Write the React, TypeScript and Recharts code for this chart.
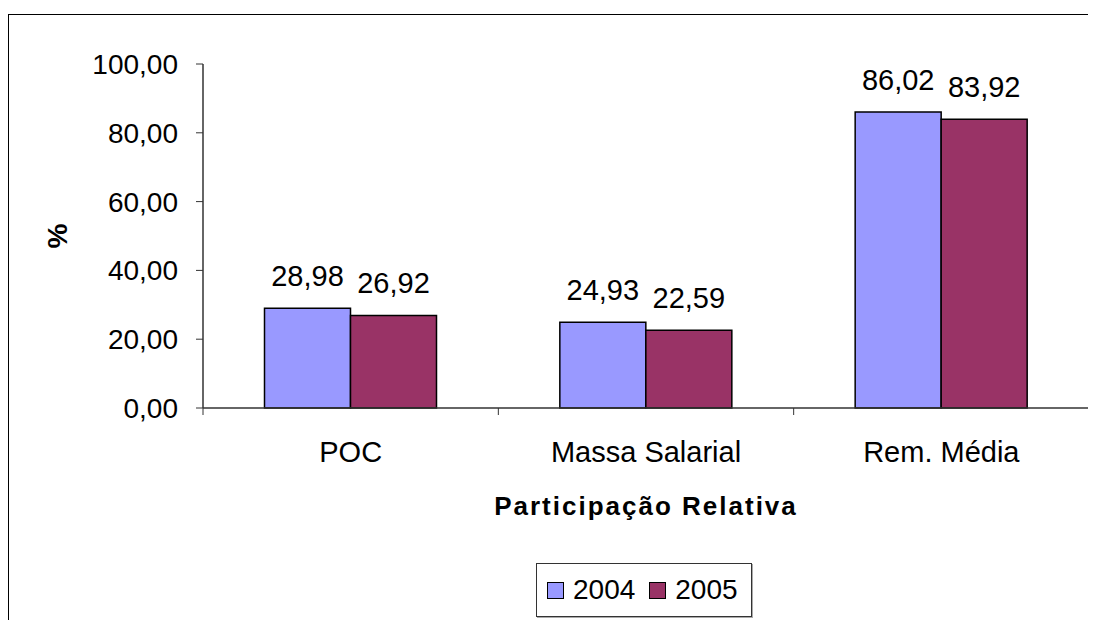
import React from 'react';
import { BarChart, Bar, XAxis, YAxis, LabelList, Legend, Label } from 'recharts';

const categories = ['POC', 'Massa Salarial', 'Rem. Média'];
const values2004 = [28.98, 24.93, 86.02];
const values2005 = [26.92, 22.59, 83.92];
const yTicks = [0, 20, 40, 60, 80, 100];
const seriesNames = ['2004', '2005'];
const seriesColors = ['#9999FF', '#993366'];

const data = categories.map((c, i) => ({ name: c, v2004: values2004[i], v2005: values2005[i] }));

const FONT = '"Liberation Sans", Arial, Helvetica, sans-serif';
const fmt = (v: any) => Number(v).toFixed(2).replace('.', ',');

const X_TICK_SIZE = 7;
const X_TICK_MARGIN = 26;

const CategoryTick = (props: any) => {
  const { x, y, payload, index, visibleTicksCount } = props;
  const half = payload && payload.offset ? payload.offset : 0;
  const axisY = y - X_TICK_SIZE - X_TICK_MARGIN;
  const last = index === (visibleTicksCount ?? categories.length) - 1;
  return (
    <g>
      <line x1={x - half} x2={x - half} y1={axisY} y2={axisY + X_TICK_SIZE} stroke="#333" strokeWidth={1} />
      {last && <line x1={x + half} x2={x + half} y1={axisY} y2={axisY + X_TICK_SIZE} stroke="#333" strokeWidth={1} />}
      <text x={x} y={y} dy="0.71em" textAnchor="middle" fontSize={29} fontFamily={FONT} fill="#000">
        {payload.value}
      </text>
    </g>
  );
};

const LegendContent = () => (
  <div
    style={{
      boxSizing: 'border-box',
      width: 216,
      height: 54,
      border: '1px solid #333',
      boxShadow: '1px 1px 0 #aaa',
      background: '#fff',
      display: 'flex',
      alignItems: 'center',
      paddingLeft: 10,
      fontFamily: FONT,
      fontSize: 28,
      color: '#000',
    }}
  >
    {seriesNames.map((n, i) => (
      <div key={n} style={{ display: 'flex', alignItems: 'center', marginRight: i === 0 ? 14 : 0 }}>
        <div
          style={{
            boxSizing: 'border-box',
            width: 17,
            height: 17,
            border: '1.5px solid #000',
            background: seriesColors[i],
            marginRight: 9,
          }}
        />
        <span style={{ lineHeight: '28px' }}>{n}</span>
      </div>
    ))}
  </div>
);

export default function App() {
  return (
    <div style={{ paddingTop: 6 }}>
      <div
        style={{
          width: 1087,
          height: 605,
          borderTop: '1px solid #000',
          borderLeft: '1px solid #000',
          background: '#fff',
        }}
      >
        <BarChart
          width={1087}
          height={605}
          data={data}
          margin={{ top: 49, right: 7, left: 0, bottom: 3 }}
          barCategoryGap={61.5}
          barGap={0}
        >
          <XAxis
            xAxisId="t"
            orientation="top"
            dataKey="name"
            height={0}
            tick={false}
            tickLine={false}
            axisLine={{ stroke: '#888', strokeWidth: 1.5 }}
          />
          <YAxis
            yAxisId="r"
            orientation="right"
            width={0}
            domain={[0, 100]}
            tick={false}
            tickLine={false}
            axisLine={{ stroke: '#888', strokeWidth: 1.5 }}
          />
          <XAxis
            dataKey="name"
            height={155}
            tickLine={false}
            tickSize={X_TICK_SIZE}
            tickMargin={X_TICK_MARGIN}
            axisLine={{ stroke: '#333', strokeWidth: 1.5 }}
            tick={<CategoryTick />}
            interval={0}
          >
            <Label
              content={(p: any) => {
                const vb = p.viewBox || { x: 203, y: 408, width: 886 };
                return (
                  <text
                    x={vb.x + vb.width / 2}
                    y={vb.y + 107}
                    textAnchor="middle"
                    fontSize={26}
                    fontWeight="bold"
                    letterSpacing={2}
                    fontFamily={FONT}
                    fill="#000"
                  >
                    Participação Relativa
                  </text>
                );
              }}
            />
          </XAxis>
          <YAxis
            width={194}
            domain={[0, 100]}
            ticks={yTicks}
            tickFormatter={fmt}
            tickSize={7}
            tickMargin={18}
            tickLine={{ stroke: '#333' }}
            axisLine={{ stroke: '#333', strokeWidth: 1.5 }}
            tick={{ fontSize: 28, fontFamily: FONT, fill: '#000' }}
            interval={0}
          >
            <Label
              content={(p: any) => {
                const vb = p.viewBox || { x: 9, y: 64, width: 194, height: 344 };
                const cx = vb.x + 48;
                const cy = vb.y + vb.height / 2;
                return (
                  <text
                    x={cx}
                    y={cy}
                    transform={`rotate(-90 ${cx} ${cy})`}
                    textAnchor="middle"
                    dominantBaseline="central"
                    fontSize={28}
                    fontWeight="bold"
                    fontFamily={FONT}
                    fill="#000"
                  >
                    %
                  </text>
                );
              }}
            />
          </YAxis>
          <Legend
            verticalAlign="bottom"
            content={<LegendContent />}
            wrapperStyle={{ left: 527, width: 216, height: 54 }}
          />
          <Bar dataKey="v2004" name={seriesNames[0]} fill={seriesColors[0]} stroke="#000" strokeWidth={1.5} isAnimationActive={false}>
            <LabelList dataKey="v2004" position="top" offset={22} formatter={fmt} style={{ fontSize: 29, fontFamily: FONT, fill: '#000' }} />
          </Bar>
          <Bar dataKey="v2005" name={seriesNames[1]} fill={seriesColors[1]} stroke="#000" strokeWidth={1.5} isAnimationActive={false}>
            <LabelList dataKey="v2005" position="top" offset={22} formatter={fmt} style={{ fontSize: 29, fontFamily: FONT, fill: '#000' }} />
          </Bar>
        </BarChart>
      </div>
    </div>
  );
}
